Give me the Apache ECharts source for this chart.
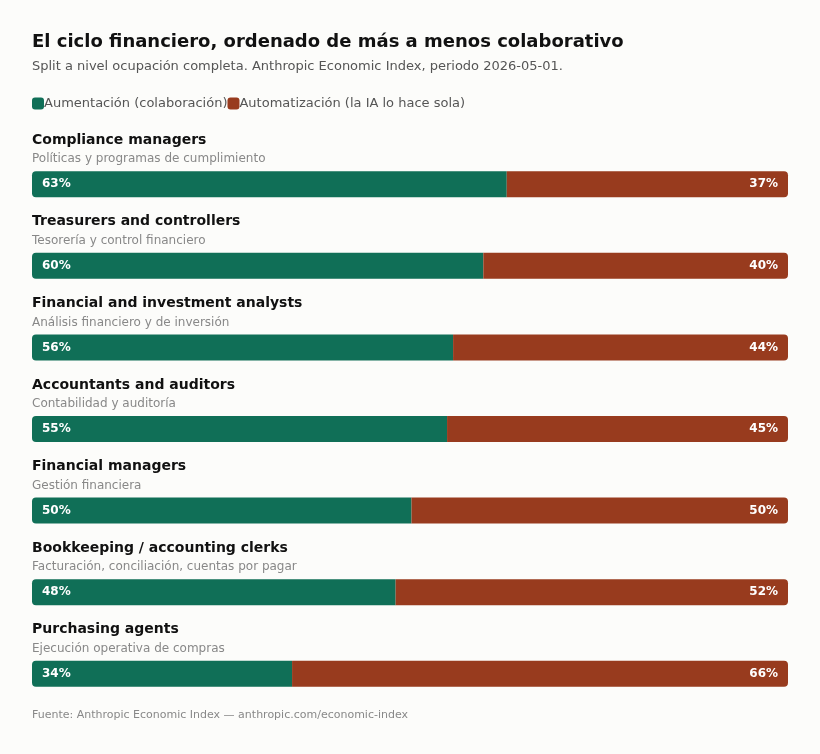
<!DOCTYPE html>
<html>
<head>
<meta charset="utf-8">
<script src="https://cdn.jsdelivr.net/npm/echarts@6/dist/echarts.min.js"></script>
<style>
html,body{margin:0;padding:0;background:#fcfcfa;}
#chart{width:820px;height:754px;}
</style>
</head>
<body>
<div id="chart"></div>
<script>
const categories = ["Compliance managers","Treasurers and controllers","Financial and investment analysts","Accountants and auditors","Financial managers","Bookkeeping / accounting clerks","Purchasing agents"];
const subLabels = ["Políticas y programas de cumplimiento","Tesorería y control financiero","Análisis financiero y de inversión","Contabilidad y auditoría","Gestión financiera","Facturación, conciliación, cuentas por pagar","Ejecución operativa de compras"];
const augmentation = [62.8, 59.7, 55.7, 54.9, 50.2, 48.1, 34.4];
const automation = [37.2, 40.3, 44.3, 45.1, 49.8, 51.9, 65.6];
const seriesNames = ["Aumentación (colaboración)","Automatización (la IA lo hace sola)"];

const FONT = "DejaVu Sans";
const GREEN = "#106f57";
const RED = "#983b1e";

const chart = echarts.init(document.getElementById('chart'));
chart.setOption({
  backgroundColor: "#fcfcfa",
  animation: false,
  textStyle: { fontFamily: FONT },
  title: [
    { text: "El ciclo financiero, ordenado de más a menos colaborativo", left: 32, top: 33, padding: 0,
      textStyle: { fontFamily: FONT, fontSize: 18, fontWeight: "bold", color: "#111" } },
    { text: "Split a nivel ocupación completa. Anthropic Economic Index, periodo 2026-05-01.", left: 32, top: 60, padding: 0,
      textStyle: { fontFamily: FONT, fontSize: 13, fontWeight: "normal", color: "#555" } },
    { text: "Fuente: Anthropic Economic Index — anthropic.com/economic-index", left: 32, top: 710, padding: 0,
      textStyle: { fontFamily: FONT, fontSize: 11, fontWeight: "normal", color: "#888" } }
  ],
  legend: {
    left: 32, top: 97, itemWidth: 12, itemHeight: 12, itemGap: 0, padding: 0,
    icon: "roundRect",
    textStyle: { fontFamily: FONT, fontSize: 13, color: "#555", padding: [0, 0, 0, -5] },
    data: seriesNames
  },
  grid: { left: 32, right: 32, top: 143.5, height: 571 },
  xAxis: { type: "value", min: 0, max: 100, show: false },
  yAxis: {
    type: "category", inverse: true, data: categories,
    axisLine: { show: false }, axisTick: { show: false }, splitLine: { show: false },
    axisLabel: {
      inside: true, margin: 0, align: "left", verticalAlign: "bottom",
      padding: [0, 0, 16, 0],
      formatter: function (v, i) { return "{n|" + v + "}\n{s|" + subLabels[i] + "}"; },
      rich: {
        n: { fontFamily: FONT, fontSize: 14, fontWeight: "bold", color: "#111", lineHeight: 20 },
        s: { fontFamily: FONT, fontSize: 12, color: "#888", lineHeight: 18 }
      }
    }
  },
  series: [
    { name: seriesNames[0], type: "bar", stack: "t", barWidth: 26, data: augmentation,
      itemStyle: { color: GREEN, borderRadius: [4, 0, 0, 4] },
      label: { show: true, position: "insideLeft", distance: 10, color: "#fff", fontFamily: FONT,
        fontSize: 12, fontWeight: "bold", formatter: p => Math.round(p.value) + "%" } },
    { name: seriesNames[1], type: "bar", stack: "t", barWidth: 26, data: automation,
      itemStyle: { color: RED, borderRadius: [0, 4, 4, 0] },
      label: { show: true, position: "insideRight", distance: 10, color: "#fff", fontFamily: FONT,
        fontSize: 12, fontWeight: "bold", formatter: p => Math.round(p.value) + "%" } }
  ]
});
</script>
</body>
</html>
